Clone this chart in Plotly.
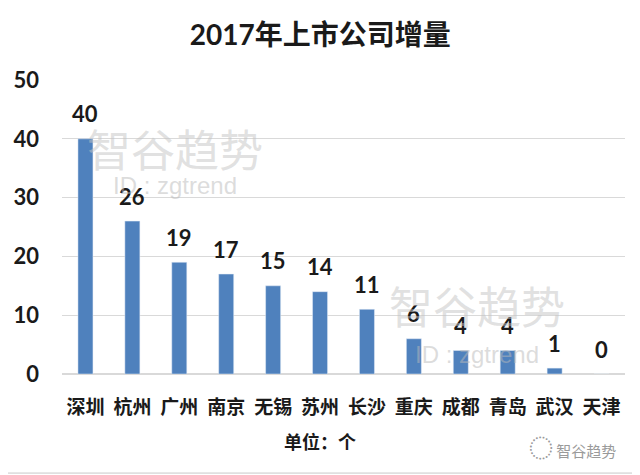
import plotly.graph_objects as go

cities = ["深圳", "杭州", "广州", "南京", "无锡", "苏州", "长沙", "重庆", "成都", "青岛", "武汉", "天津"]
increase = [40, 26, 19, 17, 15, 14, 11, 6, 4, 4, 1, 0]
y_ticks = [0, 10, 20, 30, 40, 50]

FONT = "Lato, 'Noto Sans CJK SC', sans-serif"
CJK = "'Noto Sans CJK SC', sans-serif"
BLUE = "#4f81bd"

# page body has an 8px margin, so the figure is sized to fit the window
fig = go.Figure(go.Bar(x=cities, y=increase, marker_color=BLUE, hoverinfo="x+y"))

# value labels above the bars
for city, val in zip(cities, increase):
    fig.add_annotation(
        x=city, y=val, text=str(val), showarrow=False,
        xanchor="center", yanchor="middle", yshift=25,
        font=dict(family=FONT, size=22, color="#1a1a1a", weight="bold"),
    )

fig.update_layout(
    width=632,
    height=467,
    margin=dict(l=54, r=15, t=72, b=101, autoexpand=False),
    plot_bgcolor="#ffffff",
    paper_bgcolor="#ffffff",
    bargap=0.68,
    showlegend=False,
    title=dict(
        text="2017年上市公司增量",
        x=0.494,
        y=0.942,
        xanchor="center",
        yanchor="middle",
        font=dict(family=FONT, size=28, color="#1a1a1a", weight="bold"),
    ),
)
fig.update_xaxes(
    showgrid=False,
    showline=False,
    ticks="",
    automargin=False,
    ticklabelstandoff=20,
    tickfont=dict(family=CJK, size=19, color="#1a1a1a", weight="bold"),
)
fig.update_yaxes(
    range=[0, 50],
    tickvals=y_ticks,
    showgrid=True,
    gridcolor="#d9d9d9",
    gridwidth=1,
    zeroline=True,
    zerolinecolor="#d9d9d9",
    automargin=False,
    ticklabelstandoff=22,
    tickfont=dict(family=FONT, size=22, color="#1a1a1a", weight="bold"),
)

pap = dict(xref="paper", yref="paper", showarrow=False, xanchor="center", yanchor="middle")

# axis unit label
fig.add_annotation(text="单位：个", x=0.458, y=-0.228, **pap,
                   font=dict(family=CJK, size=18, color="#1a1a1a", weight="bold"))

# watermarks
for xw, yw, yid in [(0.2, 0.77, 0.64), (0.737, 0.235, 0.065)]:
    fig.add_annotation(text="智谷趋势", x=xw, y=yw, **pap,
                       font=dict(family=CJK, size=44, color="rgba(195,195,195,0.5)"))
    fig.add_annotation(text="ID : zgtrend", x=xw, y=yid, **pap,
                       font=dict(family="'Liberation Sans', sans-serif", size=24, color="rgba(185,185,185,0.5)"))
fig.add_annotation(text="<span style='font-size:24px'>◌</span> 智谷趋势", x=0.988, y=-0.248,
                   xref="paper", yref="paper", showarrow=False,
                   xanchor="right", yanchor="middle",
                   font=dict(family=CJK, size=15, color="#9a9a9a"))

# image frame (right and bottom edges)
fig.add_shape(type="line", xref="paper", yref="paper", x0=1.023, x1=1.023, y0=-0.337, y1=1.3,
              line=dict(color="#c8c8c8", width=1))
fig.add_shape(type="line", xref="paper", yref="paper", x0=-0.2, x1=1.023, y0=-0.337, y1=-0.337,
              line=dict(color="#c8c8c8", width=1))

fig.write_html("out.html")
